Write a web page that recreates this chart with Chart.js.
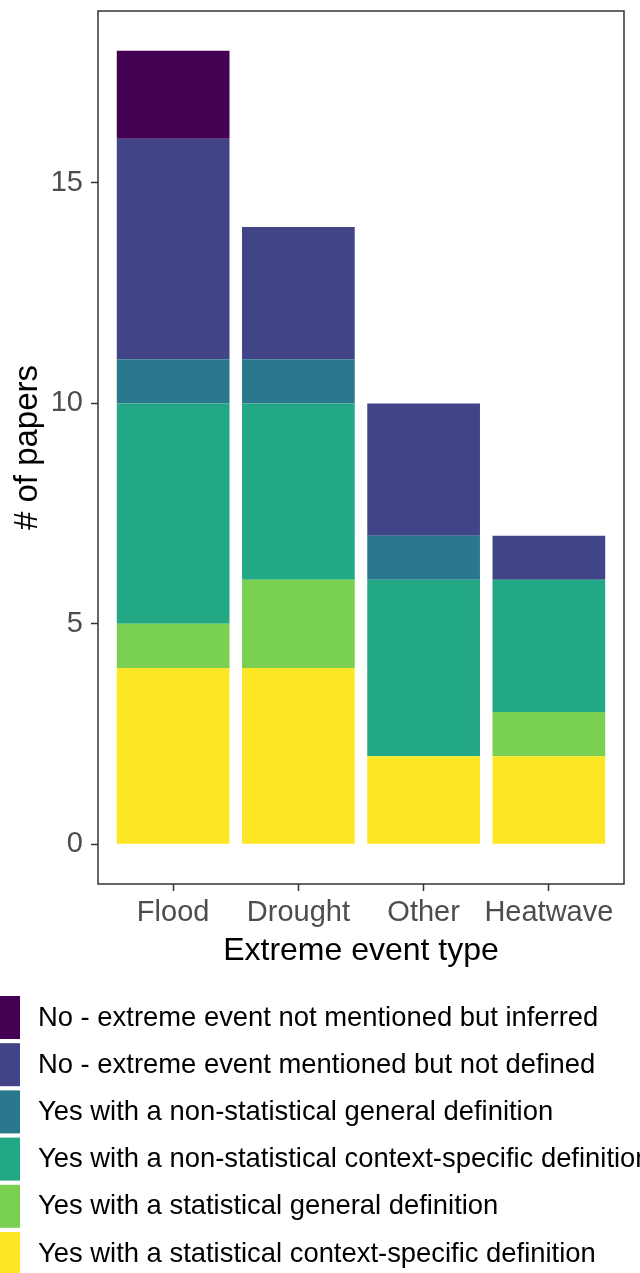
<!DOCTYPE html>
<html>
<head>
<meta charset="utf-8">
<script src="https://cdn.jsdelivr.net/npm/chart.js@4.4.1/dist/chart.umd.min.js"></script>
<style>
  html, body { margin: 0; padding: 0; background: #fff; }
  #wrap { width: 640px; height: 1273px; position: relative; overflow: hidden; }
</style>
</head>
<body>
<div id="wrap"><canvas id="chart"></canvas></div>
<script>
const categories = ['Flood', 'Drought', 'Other', 'Heatwave'];
const yTicks = [0, 5, 10, 15];

// bottom of the stack first
const seriesLabels = [
  'Yes with a statistical context-specific definition',
  'Yes with a statistical general definition',
  'Yes with a non-statistical context-specific definition',
  'Yes with a non-statistical general definition',
  'No - extreme event mentioned but not defined',
  'No - extreme event not mentioned but inferred',
];
const statContext      = [4, 4, 2, 2];
const statGeneral      = [1, 2, 0, 1];
const nonStatContext   = [5, 4, 4, 3];
const nonStatGeneral   = [1, 1, 1, 0];
const mentionedNotDef  = [5, 3, 3, 1];
const notMentionedInf  = [2, 0, 0, 0];
const seriesColors = ['#FDE725', '#7AD151', '#22A884', '#2A788E', '#414487', '#440154'];

const FONT = "'Liberation Sans', Arial, sans-serif";
const values = [statContext, statGeneral, nonStatContext, nonStatGeneral, mentionedNotDef, notMentionedInf];

const datasets = values.map((vals, i) => ({
  label: seriesLabels[i],
  data: vals.map((v, j) => ({ x: j + 1, y: v })),
  backgroundColor: seriesColors[i],
  borderWidth: 0,
  barPercentage: 0.9,
  categoryPercentage: 1.0,
}));

// panel border (theme_bw style)
const panelBorder = {
  id: 'panelBorder',
  afterDraw(chart) {
    const { ctx, chartArea: a } = chart;
    ctx.save();
    ctx.strokeStyle = '#333333';
    ctx.lineWidth = 1.5;
    ctx.strokeRect(a.left, a.top, a.right - a.left, a.bottom - a.top);
    ctx.restore();
  }
};

// vertical legend below the plot, ggplot order (top of stack first)
const sideLegend = {
  id: 'sideLegend',
  afterDraw(chart) {
    const ctx = chart.ctx;
    const ds = chart.data.datasets.slice().reverse();
    ctx.save();
    ctx.font = `27.4px ${FONT}`;
    ctx.textBaseline = 'middle';
    ctx.textAlign = 'left';
    ds.forEach((d, i) => {
      const top = 996 + i * 47.2;
      ctx.fillStyle = d.backgroundColor;
      ctx.fillRect(-23, top, 43, 43);
      ctx.fillStyle = '#000000';
      ctx.fillText(d.label, 38, top + 22);
    });
    ctx.restore();
  }
};

new Chart(document.getElementById('chart'), {
  type: 'bar',
  data: { datasets },
  plugins: [panelBorder, sideLegend],
  options: {
    responsive: true,
    maintainAspectRatio: false,
    animation: false,
    layout: { padding: { top: 11, right: 16, bottom: 303, left: 0 } },
    plugins: { legend: { display: false }, tooltip: { enabled: false } },
    scales: {
      x: {
        type: 'linear',
        stacked: true,
        offset: false,
        min: 0.4,
        max: 4.6,
        afterBuildTicks: s => { s.ticks = categories.map((c, i) => ({ value: i + 1 })); },
        afterFit: s => { s.height = 86; s.paddingLeft = 0; s.paddingRight = 0; },
        ticks: {
          callback: v => categories[v - 1],
          color: '#4D4D4D',
          font: { family: FONT, size: 29 },
          padding: 5,
          maxRotation: 0,
          autoSkip: false,
        },
        grid: { display: true, offset: false, drawOnChartArea: false, tickLength: 7, tickColor: '#333333', tickWidth: 1.5 },
        border: { display: false },
        title: { display: true, text: 'Extreme event type', color: '#000000', font: { family: FONT, size: 32 }, padding: { top: 0, bottom: 0 } },
      },
      y: {
        stacked: true,
        min: -0.9,
        max: 18.9,
        afterBuildTicks: s => { s.ticks = yTicks.map(v => ({ value: v })); },
        afterFit: s => { s.width = 98; s.paddingTop = 0; s.paddingBottom = 0; },
        ticks: {
          color: '#4D4D4D',
          font: { family: FONT, size: 29 },
          padding: 8,
        },
        grid: { display: true, drawOnChartArea: false, tickLength: 7, tickColor: '#333333', tickWidth: 1.5 },
        border: { display: false },
        title: { display: true, text: '# of papers', color: '#000000', font: { family: FONT, size: 33 }, padding: { top: 8, bottom: 0 } },
      },
    },
  },
});
</script>
</body>
</html>
